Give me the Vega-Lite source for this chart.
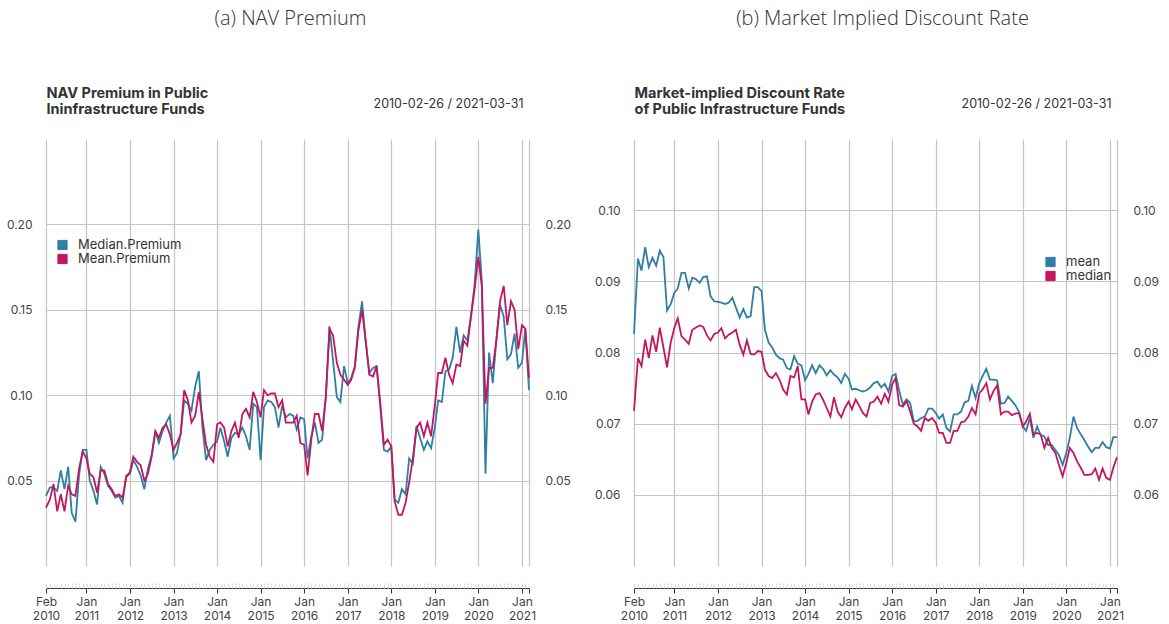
{
  "$schema": "https://vega.github.io/schema/vega-lite/v6.json",
  "background": "white",
  "padding": {"left": 6, "top": 9, "right": 5, "bottom": 0},
  "spacing": 23,
  "resolve": {"scale": {"color": "independent"}, "legend": {"color": "independent"}},
  "config": {
    "view": {"stroke": null},
    "font": "Inter",
    "axis": {"labelFont": "Inter", "labelFontSize": 12, "labelColor": "#444", "titleFont": "Inter", "titleColor": "#333"},
    "legend": {"labelFont": "Inter", "labelFontSize": 13, "labelColor": "#333"},
    "title": {"font": "Open Sans", "fontWeight": 300, "fontSize": 20, "color": "#333"}
  },
  "hconcat": [
    {
      "width": 483,
      "height": 427,
      "title": {"text": "(a) NAV Premium", "anchor": "middle", "frame": "group", "offset": 56, "dx": 3},
      "data": {"values": [
        {"d":"2010-02-26","a":0.041,"b":0.034},
        {"d":"2010-03-31","a":0.046,"b":0.039},
        {"d":"2010-04-30","a":0.046,"b":0.048},
        {"d":"2010-05-31","a":0.044,"b":0.032},
        {"d":"2010-06-30","a":0.056,"b":0.042},
        {"d":"2010-07-31","a":0.045,"b":0.032},
        {"d":"2010-08-31","a":0.058,"b":0.047},
        {"d":"2010-09-30","a":0.031,"b":0.042},
        {"d":"2010-10-31","a":0.026,"b":0.041},
        {"d":"2010-11-30","a":0.053,"b":0.057},
        {"d":"2010-12-31","a":0.068,"b":0.067},
        {"d":"2011-01-31","a":0.068,"b":0.063},
        {"d":"2011-02-28","a":0.050,"b":0.054},
        {"d":"2011-03-31","a":0.044,"b":0.052},
        {"d":"2011-04-30","a":0.036,"b":0.043},
        {"d":"2011-05-31","a":0.058,"b":0.056},
        {"d":"2011-06-30","a":0.054,"b":0.056},
        {"d":"2011-07-31","a":0.047,"b":0.048},
        {"d":"2011-08-31","a":0.044,"b":0.045},
        {"d":"2011-09-30","a":0.040,"b":0.041},
        {"d":"2011-10-31","a":0.041,"b":0.042},
        {"d":"2011-11-30","a":0.037,"b":0.040},
        {"d":"2011-12-31","a":0.053,"b":0.052},
        {"d":"2012-01-31","a":0.054,"b":0.055},
        {"d":"2012-02-29","a":0.062,"b":0.064},
        {"d":"2012-03-31","a":0.058,"b":0.061},
        {"d":"2012-04-30","a":0.053,"b":0.059},
        {"d":"2012-05-31","a":0.045,"b":0.050},
        {"d":"2012-06-30","a":0.057,"b":0.054},
        {"d":"2012-07-31","a":0.065,"b":0.064},
        {"d":"2012-08-31","a":0.079,"b":0.079},
        {"d":"2012-09-30","a":0.072,"b":0.075},
        {"d":"2012-10-31","a":0.079,"b":0.081},
        {"d":"2012-11-30","a":0.084,"b":0.083},
        {"d":"2012-12-31","a":0.088,"b":0.077},
        {"d":"2013-01-31","a":0.063,"b":0.068},
        {"d":"2013-02-28","a":0.066,"b":0.072},
        {"d":"2013-03-31","a":0.077,"b":0.077},
        {"d":"2013-04-30","a":0.097,"b":0.103},
        {"d":"2013-05-31","a":0.095,"b":0.097},
        {"d":"2013-06-30","a":0.091,"b":0.084},
        {"d":"2013-07-31","a":0.105,"b":0.088},
        {"d":"2013-08-31","a":0.114,"b":0.102},
        {"d":"2013-09-30","a":0.081,"b":0.086},
        {"d":"2013-10-31","a":0.062,"b":0.071},
        {"d":"2013-11-30","a":0.068,"b":0.064},
        {"d":"2013-12-31","a":0.071,"b":0.061},
        {"d":"2014-01-31","a":0.073,"b":0.083},
        {"d":"2014-02-28","a":0.081,"b":0.084},
        {"d":"2014-03-31","a":0.073,"b":0.081},
        {"d":"2014-04-30","a":0.064,"b":0.070},
        {"d":"2014-05-31","a":0.075,"b":0.079},
        {"d":"2014-06-30","a":0.078,"b":0.084},
        {"d":"2014-07-31","a":0.077,"b":0.075},
        {"d":"2014-08-31","a":0.081,"b":0.089},
        {"d":"2014-09-30","a":0.076,"b":0.092},
        {"d":"2014-10-31","a":0.068,"b":0.087},
        {"d":"2014-11-30","a":0.095,"b":0.102},
        {"d":"2014-12-31","a":0.093,"b":0.096},
        {"d":"2015-01-31","a":0.062,"b":0.087},
        {"d":"2015-02-28","a":0.093,"b":0.103},
        {"d":"2015-03-31","a":0.097,"b":0.100},
        {"d":"2015-04-30","a":0.096,"b":0.101},
        {"d":"2015-05-31","a":0.093,"b":0.101},
        {"d":"2015-06-30","a":0.081,"b":0.093},
        {"d":"2015-07-31","a":0.094,"b":0.097},
        {"d":"2015-08-31","a":0.087,"b":0.084},
        {"d":"2015-09-30","a":0.089,"b":0.084},
        {"d":"2015-10-31","a":0.088,"b":0.084},
        {"d":"2015-11-30","a":0.080,"b":0.088},
        {"d":"2015-12-31","a":0.087,"b":0.072},
        {"d":"2016-01-31","a":0.086,"b":0.071},
        {"d":"2016-02-29","a":0.063,"b":0.053},
        {"d":"2016-03-31","a":0.076,"b":0.074},
        {"d":"2016-04-30","a":0.084,"b":0.089},
        {"d":"2016-05-31","a":0.072,"b":0.089},
        {"d":"2016-06-30","a":0.074,"b":0.079},
        {"d":"2016-07-31","a":0.099,"b":0.099},
        {"d":"2016-08-31","a":0.140,"b":0.139},
        {"d":"2016-09-30","a":0.120,"b":0.135},
        {"d":"2016-10-31","a":0.099,"b":0.119},
        {"d":"2016-11-30","a":0.096,"b":0.112},
        {"d":"2016-12-31","a":0.117,"b":0.109},
        {"d":"2017-01-31","a":0.107,"b":0.106},
        {"d":"2017-02-28","a":0.110,"b":0.109},
        {"d":"2017-03-31","a":0.117,"b":0.116},
        {"d":"2017-04-30","a":0.140,"b":0.138},
        {"d":"2017-05-31","a":0.155,"b":0.150},
        {"d":"2017-06-30","a":0.132,"b":0.132},
        {"d":"2017-07-31","a":0.113,"b":0.112},
        {"d":"2017-08-31","a":0.116,"b":0.111},
        {"d":"2017-09-30","a":0.117,"b":0.117},
        {"d":"2017-10-31","a":0.093,"b":0.095},
        {"d":"2017-11-30","a":0.068,"b":0.071},
        {"d":"2017-12-31","a":0.067,"b":0.074},
        {"d":"2018-01-31","a":0.070,"b":0.070},
        {"d":"2018-02-28","a":0.039,"b":0.038},
        {"d":"2018-03-31","a":0.037,"b":0.030},
        {"d":"2018-04-30","a":0.045,"b":0.030},
        {"d":"2018-05-31","a":0.042,"b":0.037},
        {"d":"2018-06-30","a":0.063,"b":0.049},
        {"d":"2018-07-31","a":0.060,"b":0.063},
        {"d":"2018-08-31","a":0.082,"b":0.081},
        {"d":"2018-09-30","a":0.075,"b":0.084},
        {"d":"2018-10-31","a":0.068,"b":0.076},
        {"d":"2018-11-30","a":0.073,"b":0.084},
        {"d":"2018-12-31","a":0.069,"b":0.076},
        {"d":"2019-01-31","a":0.081,"b":0.094},
        {"d":"2019-02-28","a":0.097,"b":0.113},
        {"d":"2019-03-31","a":0.096,"b":0.113},
        {"d":"2019-04-30","a":0.114,"b":0.122},
        {"d":"2019-05-31","a":0.115,"b":0.112},
        {"d":"2019-06-30","a":0.122,"b":0.107},
        {"d":"2019-07-31","a":0.140,"b":0.118},
        {"d":"2019-08-31","a":0.125,"b":0.117},
        {"d":"2019-09-30","a":0.135,"b":0.132},
        {"d":"2019-10-31","a":0.132,"b":0.129},
        {"d":"2019-11-30","a":0.146,"b":0.146},
        {"d":"2019-12-31","a":0.165,"b":0.162},
        {"d":"2020-01-31","a":0.197,"b":0.181},
        {"d":"2020-02-29","a":0.167,"b":0.164},
        {"d":"2020-03-31","a":0.054,"b":0.095},
        {"d":"2020-04-30","a":0.125,"b":0.116},
        {"d":"2020-05-31","a":0.107,"b":0.116},
        {"d":"2020-06-30","a":0.132,"b":0.132},
        {"d":"2020-07-31","a":0.153,"b":0.155},
        {"d":"2020-08-31","a":0.146,"b":0.164},
        {"d":"2020-09-30","a":0.121,"b":0.141},
        {"d":"2020-10-31","a":0.124,"b":0.155},
        {"d":"2020-11-30","a":0.136,"b":0.150},
        {"d":"2020-12-31","a":0.116,"b":0.127},
        {"d":"2021-01-31","a":0.119,"b":0.141},
        {"d":"2021-02-28","a":0.139,"b":0.139},
        {"d":"2021-03-31","a":0.103,"b":0.110}
      ]},
      "transform": [{"fold": ["a", "b"], "as": ["s", "v"]}],
      "resolve": {"axis": {"x": "independent", "y": "independent"}},
      "layer": [
        {
          "mark": {"type": "line", "strokeWidth": 1.8},
          "encoding": {
            "x": {"field": "d", "type": "temporal", "scale": {"type": "utc", "nice": false},
              "axis": {"orient": "bottom", "offset": 22, "title": null,
                "values": [{"year":2010,"month":2,"date":26,"utc":true},{"year":2011,"month":1,"date":31,"utc":true},{"year":2012,"month":1,"date":31,"utc":true},{"year":2013,"month":1,"date":31,"utc":true},{"year":2014,"month":1,"date":31,"utc":true},{"year":2015,"month":1,"date":31,"utc":true},{"year":2016,"month":1,"date":31,"utc":true},{"year":2017,"month":1,"date":31,"utc":true},{"year":2018,"month":1,"date":31,"utc":true},{"year":2019,"month":1,"date":31,"utc":true},{"year":2020,"month":1,"date":31,"utc":true},{"year":2021,"month":1,"date":31,"utc":true},{"year":2021,"month":3,"date":31,"utc":true}],
                "labelExpr": "utcmonth(datum.value) == 2 ? '' : [utcFormat(datum.value, '%b'), utcFormat(datum.value, '%Y')]",
                "labelOverlap": false, "labelFlush": false, "labelBound": false, "labelLineHeight": 14, "labelPadding": 3,
                "tickSize": 5, "tickColor": "#333", "tickWidth": 1, "domainColor": "#333", "domainWidth": 1,
                "grid": true, "gridColor": "#c4c4c4", "gridWidth": 1.2}},
            "y": {"field": "v", "type": "quantitative", "scale": {"domain": [0, 0.25], "nice": false, "zero": false},
              "axis": {"orient": "left", "title": null, "values": [0.05, 0.1, 0.15, 0.2], "format": ".2f", "ticks": false, "domain": false, "labelPadding": 14, "grid": true, "gridColor": "#c4c4c4", "gridWidth": 1.2}},
            "color": {"field": "s", "type": "nominal", "scale": {"domain": ["a", "b"], "range": ["#2f7ea3", "#c4165f"]},
              "legend": {"orient": "none", "legendX": 10, "legendY": 99.5, "title": null, "symbolType": "square", "symbolSize": 85, "labelOffset": 9, "rowPadding": -1, "padding": 0,
                "labelExpr": "datum.label == 'a' ? 'Median.Premium' : 'Mean.Premium'",
                "encode": {"symbols": {"update": {"fill": {"signal": "datum.value == 'a' ? '#2f7ea3' : '#c4165f'"}, "stroke": {"value": "#222"}, "strokeWidth": {"value": 1}, "opacity": {"value": 1}}}}}}
          }
        },
        {
          "mark": {"type": "square", "filled": true, "opacity": 0},
          "encoding": {
            "x": {"field": "d", "type": "temporal", "scale": {"type": "utc", "nice": false},
              "axis": {"orient": "top", "labels": false, "ticks": false, "domain": false, "grid": false, "minExtent": 0, "maxExtent": 0,
                "title": "2010-02-26 / 2021-03-31", "titleX": 477, "titleAlign": "right", "titleFontSize": 12.5, "titleFontWeight": "normal", "titlePadding": 29}},
            "y": {"field": "v", "type": "quantitative", "scale": {"domain": [0, 0.25], "nice": false, "zero": false},
              "axis": {"orient": "right", "title": null, "values": [0.05, 0.1, 0.15, 0.2], "format": ".2f", "ticks": false, "domain": false, "grid": false, "labelPadding": 16}}
          }
        },
        {
          "mark": {"type": "square", "filled": true, "opacity": 0},
          "encoding": {
            "x": {"field": "d", "type": "temporal", "scale": {"type": "utc", "nice": false},
              "axis": {"orient": "bottom", "offset": 22, "title": null, "labels": false, "domain": false, "grid": false,
                "tickCount": {"interval": "month", "step": 1}, "tickSize": -5, "tickColor": "#dcdcdc", "tickWidth": 1}},
            "y": {"field": "v", "type": "quantitative", "scale": {"domain": [0, 0.25], "nice": false, "zero": false}, "axis": null}
          }
        },
        {
          "mark": {"type": "square", "filled": true, "opacity": 0},
          "encoding": {
            "x": {"field": "d", "type": "temporal", "scale": {"type": "utc", "nice": false},
              "axis": {"orient": "top", "labels": false, "ticks": false, "domain": false, "grid": false, "minExtent": 0, "maxExtent": 0,
                "title": ["NAV Premium in Public", "Ininfrastructure Funds"], "titleX": 0, "titleAlign": "left", "titleFontSize": 14.5, "titleFontWeight": "bold", "titleLineHeight": 16, "titlePadding": 23}},
            "y": {"field": "v", "type": "quantitative", "scale": {"domain": [0, 0.25], "nice": false, "zero": false}, "axis": null}
          }
        }
      ]
    },
    {
      "width": 483,
      "height": 427,
      "title": {"text": "(b) Market Implied Discount Rate", "anchor": "middle", "frame": "group", "offset": 56, "dx": 7},
      "data": {"values": [
        {"d":"2010-02-26","mean":0.0826,"median":0.0718},
        {"d":"2010-03-31","mean":0.0932,"median":0.0792},
        {"d":"2010-04-30","mean":0.0915,"median":0.0781},
        {"d":"2010-05-31","mean":0.0948,"median":0.0818},
        {"d":"2010-06-30","mean":0.0920,"median":0.0792},
        {"d":"2010-07-31","mean":0.0933,"median":0.0824},
        {"d":"2010-08-31","mean":0.0922,"median":0.0801},
        {"d":"2010-09-30","mean":0.0943,"median":0.0835},
        {"d":"2010-10-31","mean":0.0934,"median":0.0807},
        {"d":"2010-11-30","mean":0.0859,"median":0.0779},
        {"d":"2010-12-31","mean":0.0868,"median":0.0814},
        {"d":"2011-01-31","mean":0.0884,"median":0.0835},
        {"d":"2011-02-28","mean":0.0890,"median":0.0848},
        {"d":"2011-03-31","mean":0.0912,"median":0.0823},
        {"d":"2011-04-30","mean":0.0912,"median":0.0818},
        {"d":"2011-05-31","mean":0.0890,"median":0.0812},
        {"d":"2011-06-30","mean":0.0905,"median":0.0832},
        {"d":"2011-07-31","mean":0.0903,"median":0.0835},
        {"d":"2011-08-31","mean":0.0898,"median":0.0838},
        {"d":"2011-09-30","mean":0.0906,"median":0.0836},
        {"d":"2011-10-31","mean":0.0907,"median":0.0824},
        {"d":"2011-11-30","mean":0.0879,"median":0.0817},
        {"d":"2011-12-31","mean":0.0872,"median":0.0826},
        {"d":"2012-01-31","mean":0.0871,"median":0.0828},
        {"d":"2012-02-29","mean":0.0870,"median":0.0834},
        {"d":"2012-03-31","mean":0.0868,"median":0.0820},
        {"d":"2012-04-30","mean":0.0870,"median":0.0825},
        {"d":"2012-05-31","mean":0.0877,"median":0.0828},
        {"d":"2012-06-30","mean":0.0863,"median":0.0832},
        {"d":"2012-07-31","mean":0.0849,"median":0.0811},
        {"d":"2012-08-31","mean":0.0861,"median":0.0797},
        {"d":"2012-09-30","mean":0.0849,"median":0.0817},
        {"d":"2012-10-31","mean":0.0851,"median":0.0798},
        {"d":"2012-11-30","mean":0.0892,"median":0.0797},
        {"d":"2012-12-31","mean":0.0892,"median":0.0802},
        {"d":"2013-01-31","mean":0.0886,"median":0.0801},
        {"d":"2013-02-28","mean":0.0832,"median":0.0776},
        {"d":"2013-03-31","mean":0.0814,"median":0.0767},
        {"d":"2013-04-30","mean":0.0807,"median":0.0764},
        {"d":"2013-05-31","mean":0.0797,"median":0.0771},
        {"d":"2013-06-30","mean":0.0792,"median":0.0762},
        {"d":"2013-07-31","mean":0.0790,"median":0.0748},
        {"d":"2013-08-31","mean":0.0778,"median":0.0741},
        {"d":"2013-09-30","mean":0.0776,"median":0.0767},
        {"d":"2013-10-31","mean":0.0795,"median":0.0765},
        {"d":"2013-11-30","mean":0.0784,"median":0.0781},
        {"d":"2013-12-31","mean":0.0782,"median":0.0734},
        {"d":"2014-01-31","mean":0.0761,"median":0.0734},
        {"d":"2014-02-28","mean":0.0770,"median":0.0713},
        {"d":"2014-03-31","mean":0.0782,"median":0.0731},
        {"d":"2014-04-30","mean":0.0771,"median":0.0741},
        {"d":"2014-05-31","mean":0.0782,"median":0.0743},
        {"d":"2014-06-30","mean":0.0777,"median":0.0734},
        {"d":"2014-07-31","mean":0.0768,"median":0.0722},
        {"d":"2014-08-31","mean":0.0775,"median":0.0710},
        {"d":"2014-09-30","mean":0.0769,"median":0.0737},
        {"d":"2014-10-31","mean":0.0765,"median":0.0717},
        {"d":"2014-11-30","mean":0.0757,"median":0.0709},
        {"d":"2014-12-31","mean":0.0770,"median":0.0722},
        {"d":"2015-01-31","mean":0.0763,"median":0.0731},
        {"d":"2015-02-28","mean":0.0748,"median":0.0720},
        {"d":"2015-03-31","mean":0.0749,"median":0.0734},
        {"d":"2015-04-30","mean":0.0747,"median":0.0725},
        {"d":"2015-05-31","mean":0.0745,"median":0.0715},
        {"d":"2015-06-30","mean":0.0747,"median":0.0710},
        {"d":"2015-07-31","mean":0.0751,"median":0.0729},
        {"d":"2015-08-31","mean":0.0757,"median":0.0731},
        {"d":"2015-09-30","mean":0.0759,"median":0.0738},
        {"d":"2015-10-31","mean":0.0751,"median":0.0728},
        {"d":"2015-11-30","mean":0.0756,"median":0.0742},
        {"d":"2015-12-31","mean":0.0745,"median":0.0731},
        {"d":"2016-01-31","mean":0.0767,"median":0.0755},
        {"d":"2016-02-29","mean":0.0770,"median":0.0764},
        {"d":"2016-03-31","mean":0.0746,"median":0.0726},
        {"d":"2016-04-30","mean":0.0727,"median":0.0724},
        {"d":"2016-05-31","mean":0.0734,"median":0.0732},
        {"d":"2016-06-30","mean":0.0729,"median":0.0717},
        {"d":"2016-07-31","mean":0.0703,"median":0.0700},
        {"d":"2016-08-31","mean":0.0704,"median":0.0696},
        {"d":"2016-09-30","mean":0.0708,"median":0.0690},
        {"d":"2016-10-31","mean":0.0710,"median":0.0708},
        {"d":"2016-11-30","mean":0.0721,"median":0.0704},
        {"d":"2016-12-31","mean":0.0721,"median":0.0708},
        {"d":"2017-01-31","mean":0.0715,"median":0.0701},
        {"d":"2017-02-28","mean":0.0707,"median":0.0687},
        {"d":"2017-03-31","mean":0.0713,"median":0.0687},
        {"d":"2017-04-30","mean":0.0694,"median":0.0673},
        {"d":"2017-05-31","mean":0.0689,"median":0.0673},
        {"d":"2017-06-30","mean":0.0713,"median":0.0690},
        {"d":"2017-07-31","mean":0.0713,"median":0.0690},
        {"d":"2017-08-31","mean":0.0717,"median":0.0702},
        {"d":"2017-09-30","mean":0.0730,"median":0.0703},
        {"d":"2017-10-31","mean":0.0732,"median":0.0710},
        {"d":"2017-11-30","mean":0.0753,"median":0.0722},
        {"d":"2017-12-31","mean":0.0736,"median":0.0713},
        {"d":"2018-01-31","mean":0.0757,"median":0.0743},
        {"d":"2018-02-28","mean":0.0767,"median":0.0748},
        {"d":"2018-03-31","mean":0.0777,"median":0.0757},
        {"d":"2018-04-30","mean":0.0762,"median":0.0734},
        {"d":"2018-05-31","mean":0.0762,"median":0.0746},
        {"d":"2018-06-30","mean":0.0761,"median":0.0754},
        {"d":"2018-07-31","mean":0.0728,"median":0.0713},
        {"d":"2018-08-31","mean":0.0729,"median":0.0717},
        {"d":"2018-09-30","mean":0.0738,"median":0.0717},
        {"d":"2018-10-31","mean":0.0732,"median":0.0712},
        {"d":"2018-11-30","mean":0.0726,"median":0.0714},
        {"d":"2018-12-31","mean":0.0716,"median":0.0715},
        {"d":"2019-01-31","mean":0.0696,"median":0.0696},
        {"d":"2019-02-28","mean":0.0690,"median":0.0703},
        {"d":"2019-03-31","mean":0.0708,"median":0.0714},
        {"d":"2019-04-30","mean":0.0680,"median":0.0685},
        {"d":"2019-05-31","mean":0.0696,"median":0.0687},
        {"d":"2019-06-30","mean":0.0684,"median":0.0685},
        {"d":"2019-07-31","mean":0.0682,"median":0.0666},
        {"d":"2019-08-31","mean":0.0670,"median":0.0680},
        {"d":"2019-09-30","mean":0.0670,"median":0.0666},
        {"d":"2019-10-31","mean":0.0663,"median":0.0659},
        {"d":"2019-11-30","mean":0.0656,"median":0.0642},
        {"d":"2019-12-31","mean":0.0642,"median":0.0626},
        {"d":"2020-01-31","mean":0.0659,"median":0.0645},
        {"d":"2020-02-29","mean":0.0680,"median":0.0666},
        {"d":"2020-03-31","mean":0.0710,"median":0.0659},
        {"d":"2020-04-30","mean":0.0694,"median":0.0647},
        {"d":"2020-05-31","mean":0.0685,"median":0.0638},
        {"d":"2020-06-30","mean":0.0677,"median":0.0628},
        {"d":"2020-07-31","mean":0.0668,"median":0.0628},
        {"d":"2020-08-31","mean":0.0660,"median":0.0629},
        {"d":"2020-09-30","mean":0.0666,"median":0.0637},
        {"d":"2020-10-31","mean":0.0666,"median":0.0621},
        {"d":"2020-11-30","mean":0.0674,"median":0.0637},
        {"d":"2020-12-31","mean":0.0667,"median":0.0624},
        {"d":"2021-01-31","mean":0.0665,"median":0.0621},
        {"d":"2021-02-28","mean":0.0681,"median":0.0638},
        {"d":"2021-03-31","mean":0.0681,"median":0.0653}
      ]},
      "transform": [{"fold": ["mean", "median"], "as": ["s", "v"]}],
      "resolve": {"axis": {"x": "independent", "y": "independent"}},
      "layer": [
        {
          "mark": {"type": "line", "strokeWidth": 1.8},
          "encoding": {
            "x": {"field": "d", "type": "temporal", "scale": {"type": "utc", "nice": false},
              "axis": {"orient": "bottom", "offset": 22, "title": null,
                "values": [{"year":2010,"month":2,"date":26,"utc":true},{"year":2011,"month":1,"date":31,"utc":true},{"year":2012,"month":1,"date":31,"utc":true},{"year":2013,"month":1,"date":31,"utc":true},{"year":2014,"month":1,"date":31,"utc":true},{"year":2015,"month":1,"date":31,"utc":true},{"year":2016,"month":1,"date":31,"utc":true},{"year":2017,"month":1,"date":31,"utc":true},{"year":2018,"month":1,"date":31,"utc":true},{"year":2019,"month":1,"date":31,"utc":true},{"year":2020,"month":1,"date":31,"utc":true},{"year":2021,"month":1,"date":31,"utc":true},{"year":2021,"month":3,"date":31,"utc":true}],
                "labelExpr": "utcmonth(datum.value) == 2 ? '' : [utcFormat(datum.value, '%b'), utcFormat(datum.value, '%Y')]",
                "labelOverlap": false, "labelFlush": false, "labelBound": false, "labelLineHeight": 14, "labelPadding": 3,
                "tickSize": 5, "tickColor": "#333", "tickWidth": 1, "domainColor": "#333", "domainWidth": 1,
                "grid": true, "gridColor": "#c4c4c4", "gridWidth": 1.2}},
            "y": {"field": "v", "type": "quantitative", "scale": {"domain": [0.05, 0.11], "nice": false, "zero": false},
              "axis": {"orient": "left", "title": null, "values": [0.06, 0.07, 0.08, 0.09, 0.1], "format": ".2f", "ticks": false, "domain": false, "labelPadding": 14, "grid": true, "gridColor": "#c4c4c4", "gridWidth": 1.2}},
            "color": {"field": "s", "type": "nominal", "scale": {"domain": ["mean", "median"], "range": ["#2f7ea3", "#c4165f"]},
              "legend": {"orient": "none", "legendX": 410, "legendY": 116.5, "title": null, "symbolType": "square", "symbolSize": 85, "labelOffset": 9, "rowPadding": -1, "padding": 0,
                "encode": {"symbols": {"update": {"fill": {"signal": "datum.value == 'mean' ? '#2f7ea3' : '#c4165f'"}, "stroke": {"value": "#222"}, "strokeWidth": {"value": 1}, "opacity": {"value": 1}}}}}}
          }
        },
        {
          "mark": {"type": "square", "filled": true, "opacity": 0},
          "encoding": {
            "x": {"field": "d", "type": "temporal", "scale": {"type": "utc", "nice": false},
              "axis": {"orient": "top", "labels": false, "ticks": false, "domain": false, "grid": false, "minExtent": 0, "maxExtent": 0,
                "title": "2010-02-26 / 2021-03-31", "titleX": 477, "titleAlign": "right", "titleFontSize": 12.5, "titleFontWeight": "normal", "titlePadding": 29}},
            "y": {"field": "v", "type": "quantitative", "scale": {"domain": [0.05, 0.11], "nice": false, "zero": false},
              "axis": {"orient": "right", "title": null, "values": [0.06, 0.07, 0.08, 0.09, 0.1], "format": ".2f", "ticks": false, "domain": false, "grid": false, "labelPadding": 16}}
          }
        },
        {
          "mark": {"type": "square", "filled": true, "opacity": 0},
          "encoding": {
            "x": {"field": "d", "type": "temporal", "scale": {"type": "utc", "nice": false},
              "axis": {"orient": "bottom", "offset": 22, "title": null, "labels": false, "domain": false, "grid": false,
                "tickCount": {"interval": "month", "step": 1}, "tickSize": -5, "tickColor": "#dcdcdc", "tickWidth": 1}},
            "y": {"field": "v", "type": "quantitative", "scale": {"domain": [0.05, 0.11], "nice": false, "zero": false}, "axis": null}
          }
        },
        {
          "mark": {"type": "square", "filled": true, "opacity": 0},
          "encoding": {
            "x": {"field": "d", "type": "temporal", "scale": {"type": "utc", "nice": false},
              "axis": {"orient": "top", "labels": false, "ticks": false, "domain": false, "grid": false, "minExtent": 0, "maxExtent": 0,
                "title": ["Market-implied Discount Rate", "of Public Infrastructure Funds"], "titleX": 0, "titleAlign": "left", "titleFontSize": 14.5, "titleFontWeight": "bold", "titleLineHeight": 16, "titlePadding": 23}},
            "y": {"field": "v", "type": "quantitative", "scale": {"domain": [0.05, 0.11], "nice": false, "zero": false}, "axis": null}
          }
        }
      ]
    }
  ]
}
